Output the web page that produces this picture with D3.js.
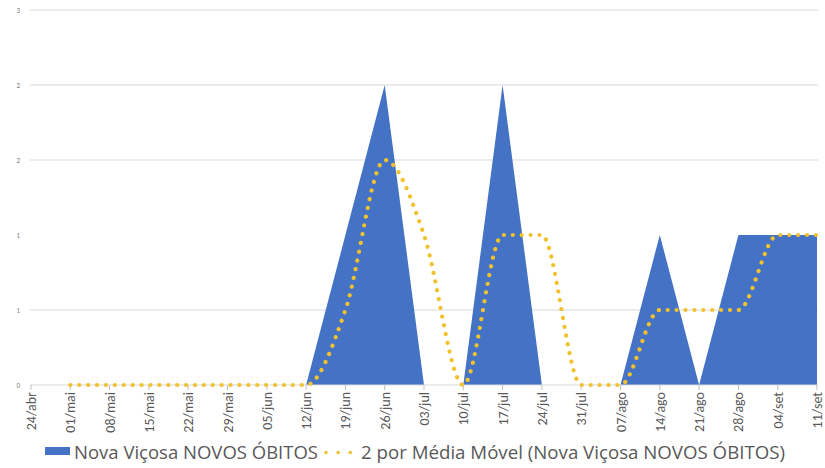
<!DOCTYPE html>
<html>
<head>
<meta charset="utf-8">
<script src="https://cdn.jsdelivr.net/npm/d3@7"></script>
<style>
  html, body { margin: 0; padding: 0; background: #fff; }
  svg { display: block; }
</style>
</head>
<body>
<svg id="chart" width="825" height="468"></svg>
<script>
const categories = ["24/abr","01/mai","08/mai","15/mai","22/mai","29/mai","05/jun","12/jun","19/jun","26/jun","03/jul","10/jul","17/jul","24/jul","31/jul","07/ago","14/ago","21/ago","28/ago","04/set","11/set"];
const novosObitos = [0,0,0,0,0,0,0,0,1,2,0,0,2,0,0,0,1,0,1,1,1];
const mediaMovel = [null,0,0,0,0,0,0,0,0.5,1.5,1,0,1,1,0,0,0.5,0.5,0.5,1,1];
const yTicks = [0,0.5,1,1.5,2,2.5];
const seriesNames = ["Nova Viçosa NOVOS ÓBITOS","2 por Média Móvel (Nova Viçosa NOVOS ÓBITOS)"];

(function () {
const svg = d3.select("#chart");
const pLeft = 31, pRight = 817, pTop = 10, pBottom = 385;
const font = "Calibri, Carlito, 'Liberation Sans Narrow', 'Open Sans', sans-serif";
const legendFont = "'Open Sans', sans-serif";

const x = d3.scalePoint().domain(categories).range([pLeft, pRight]);
const y = d3.scaleLinear().domain([0, 2.5]).range([pBottom, pTop]);

// gridlines (the 1.0 line is not visible in the reference)
svg.append("g").selectAll("line").data(yTicks.filter(d => d > 0 && d !== 1)).join("line")
  .attr("x1", 30).attr("x2", 818)
  .attr("y1", d => y(d)).attr("y2", d => y(d))
  .attr("stroke", "#d9d9d9").attr("stroke-width", 1);

// y labels
svg.append("g").selectAll("text").data(yTicks).join("text")
  .attr("x", 20).attr("y", d => y(d) + 2.5)
  .attr("text-anchor", "end")
  .attr("font-family", font).attr("font-size", 7).attr("fill", "#7f7f7f")
  .text(d => d3.format(".0f")(Math.round(d + 1e-9)));

// area
const area = d3.area()
  .x((d, i) => x(categories[i]))
  .y0(y(0)).y1(d => y(d));
svg.append("path").datum(novosObitos)
  .attr("d", area).attr("fill", "#4472C4");

// x axis line and ticks
svg.append("line").attr("x1", 30).attr("x2", 818).attr("y1", pBottom).attr("y2", pBottom)
  .attr("stroke", "#d9d9d9");
svg.append("g").selectAll("line").data(categories).join("line")
  .attr("x1", d => x(d)).attr("x2", d => x(d))
  .attr("y1", pBottom).attr("y2", pBottom + 5)
  .attr("stroke", "#bfbfbf");

// moving average
const line = d3.line()
  .defined(d => d != null)
  .x((d, i) => x(categories[i]))
  .y(d => y(d))
  .curve(d3.curveMonotoneX);
svg.append("path").datum(mediaMovel)
  .attr("d", line)
  .attr("fill", "none")
  .attr("stroke", "#F2C12E")
  .attr("stroke-width", 4.2)
  .attr("stroke-linecap", "round")
  .attr("stroke-dasharray", "0.1 8.8");

// x labels
svg.append("g").selectAll("text").data(categories).join("text")
  .attr("transform", d => `translate(${x(d) + 5},${pBottom + 7}) rotate(-90)`)
  .attr("text-anchor", "end")
  .attr("font-family", font).attr("font-size", 14).attr("fill", "#595959")
  .text(d => d);

// legend
const lg = svg.append("g");
lg.append("rect").attr("x", 45).attr("y", 447).attr("width", 25).attr("height", 8).attr("fill", "#4472C4");
lg.append("text").attr("x", 74).attr("y", 459)
  .attr("font-family", legendFont).attr("font-size", 18).attr("fill", "#595959")
  .attr("textLength", 244).attr("lengthAdjust", "spacingAndGlyphs")
  .text(seriesNames[0]);
lg.append("line").attr("x1", 326).attr("x2", 351).attr("y1", 452.5).attr("y2", 452.5)
  .attr("stroke", "#F2C12E").attr("stroke-width", 3.5).attr("stroke-linecap", "round")
  .attr("stroke-dasharray", "0.1 12");
lg.append("text").attr("x", 361).attr("y", 459)
  .attr("font-family", legendFont).attr("font-size", 18).attr("fill", "#595959")
  .attr("textLength", 424).attr("lengthAdjust", "spacingAndGlyphs")
  .text(seriesNames[1]);
})();
</script>
</body>
</html>
